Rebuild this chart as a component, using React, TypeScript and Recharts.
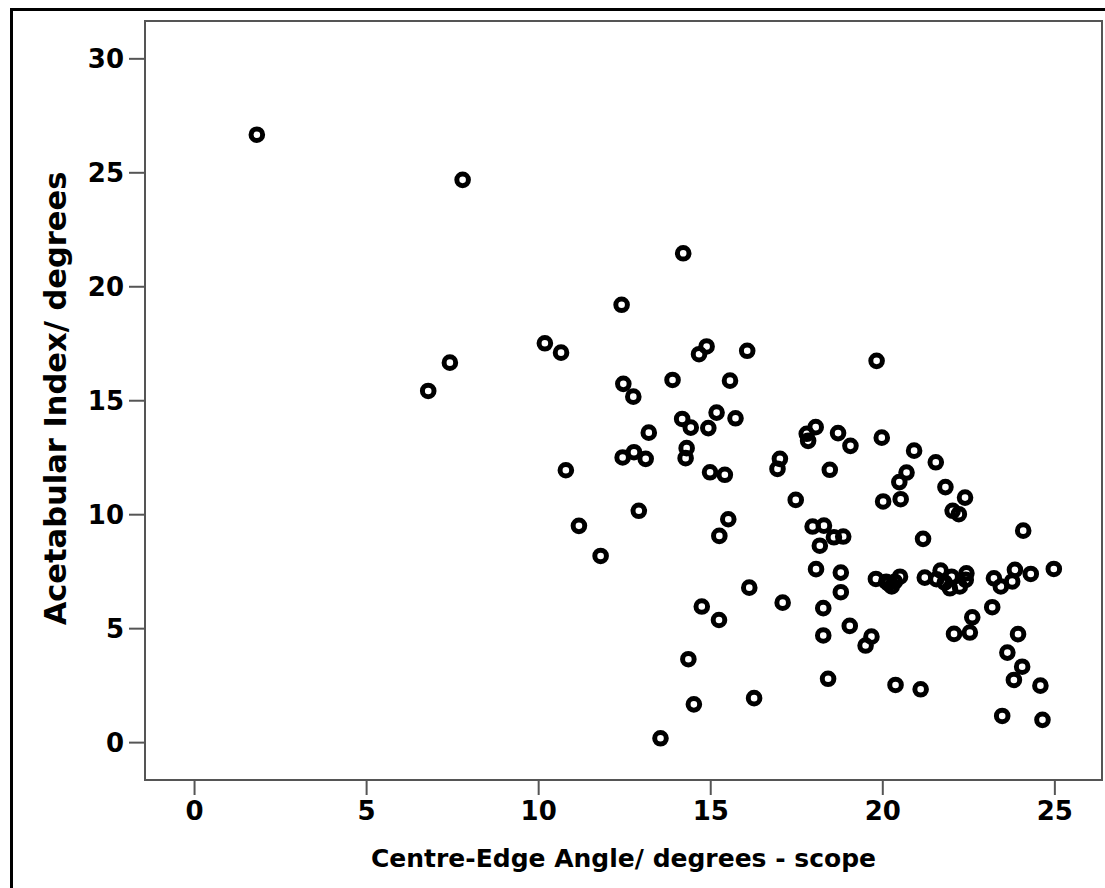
import { ScatterChart, Scatter, XAxis, YAxis, ReferenceArea } from "recharts";

// Centre-Edge angle (scope), degrees
const ceAngle = [
  1.81, 7.79, 10.18, 7.42, 6.79, 14.2, 12.41, 10.65, 14.88, 14.66,
  16.06, 12.46, 12.75, 13.89, 15.56, 14.17, 14.42, 15.17, 14.93, 15.72,
  13.2, 12.44, 12.77, 13.11, 14.3, 14.27, 10.79, 14.98, 15.41, 17.01,
  16.94, 12.91, 11.17, 11.8, 15.51, 15.25, 17.47, 16.12, 14.74, 15.24,
  17.09, 14.35, 14.51, 16.26, 13.54, 19.82, 18.05, 17.79, 17.83, 18.7,
  19.06, 19.97, 20.91, 21.54, 20.69, 20.48, 18.46, 21.82, 22.39, 22.03,
  22.21, 20.01, 20.52, 24.08, 17.96, 18.29, 18.58, 18.85, 18.17, 21.17,
  18.06, 18.78, 18.78, 18.27, 18.27, 19.04, 19.67, 19.5, 18.41, 20.37,
  21.1, 19.8, 20.1, 20.16, 20.26, 20.35, 20.5, 21.22, 21.56, 21.68,
  21.8, 21.95, 22.0, 22.24, 22.41, 22.43, 23.23, 23.43, 23.84, 23.76,
  24.3, 24.97, 23.18, 22.6, 22.07, 22.53, 23.93, 23.62, 24.05, 23.81,
  24.58, 23.47, 24.64,
];

// Acetabular index, degrees
const acetabularIndex = [
  26.67, 24.69, 17.52, 16.67, 15.43, 21.47, 19.21, 17.11, 17.38, 17.04,
  17.19, 15.74, 15.18, 15.91, 15.88, 14.2, 13.82, 14.48, 13.8, 14.23,
  13.6, 12.51, 12.74, 12.45, 12.92, 12.48, 11.95, 11.86, 11.75, 12.45,
  12.01, 10.17, 9.51, 8.19, 9.8, 9.07, 10.65, 6.8, 5.97, 5.38,
  6.14, 3.66, 1.68, 1.95, 0.19, 16.75, 13.84, 13.55, 13.24, 13.58,
  13.02, 13.38, 12.81, 12.3, 11.85, 11.43, 11.97, 11.21, 10.75, 10.17,
  10.02, 10.58, 10.68, 9.3, 9.48, 9.52, 9.01, 9.04, 8.64, 8.94,
  7.61, 7.46, 6.6, 5.9, 4.7, 5.12, 4.65, 4.26, 2.8, 2.53,
  2.34, 7.18, 7.06, 6.99, 6.85, 7.06, 7.28, 7.24, 7.17, 7.55,
  7.02, 6.77, 7.28, 6.85, 7.14, 7.43, 7.21, 6.85, 7.58, 7.07,
  7.4, 7.62, 5.94, 5.5, 4.77, 4.83, 4.76, 3.95, 3.33, 2.75,
  2.5, 1.17, 1.0,
];

const xTicks = [0, 5, 10, 15, 20, 25];
const yTicks = [0, 5, 10, 15, 20, 25, 30];

const points = ceAngle.map((x, i) => ({ x, y: acetabularIndex[i] }));

const xDomain = [-1.44, 26.37];
const yDomain = [-1.64, 31.66];

const FONT = "'DejaVu Sans', sans-serif";

const Ring = (props: any) => (
  <circle cx={props.cx} cy={props.cy} r={5.8} fill="none" stroke="#000" strokeWidth={5} />
);

const XTitle = (props: any) => {
  const vb = props.viewBox;
  return (
    <text
      x={vb.x + vb.width / 2}
      y={867}
      textAnchor="middle"
      fontFamily={FONT}
      fontWeight="bold"
      fontSize={25}
      fill="#000"
    >
      Centre-Edge Angle/ degrees - scope
    </text>
  );
};

const YTitle = (props: any) => {
  const vb = props.viewBox;
  const cx = 66;
  const cy = vb.y + vb.height / 2 - 2;
  return (
    <text
      x={cx}
      y={cy}
      transform={`rotate(-90 ${cx} ${cy})`}
      textAnchor="middle"
      fontFamily={FONT}
      fontWeight="bold"
      fontSize={30.5}
      fill="#000"
    >
      Acetabular Index/ degrees
    </text>
  );
};

const tickStyle = { fill: "#000", fontSize: 26, fontWeight: "bold", fontFamily: FONT };

export default function App() {
  return (
    <div style={{ position: "absolute", left: 0, top: 0, width: 1105, height: 888, background: "#fff" }}>
      <div
        style={{
          position: "absolute",
          left: 10,
          top: 8,
          width: 1095,
          height: 880,
          borderTop: "3px solid #000",
          borderLeft: "3px solid #000",
          boxSizing: "border-box",
        }}
      />
      <div style={{ position: "absolute", left: 0, top: 0 }}>
        <ScatterChart width={1105} height={888} margin={{ top: 21, right: 3, bottom: 0, left: 0 }}>
          <XAxis
            type="number"
            dataKey="x"
            domain={xDomain}
            ticks={xTicks}
            allowDataOverflow
            height={108}
            tickSize={15}
            tickMargin={7}
            tick={tickStyle}
            axisLine={{ stroke: "#555", strokeWidth: 2 }}
            tickLine={{ stroke: "#555", strokeWidth: 2 }}
            label={{ content: XTitle }}
          />
          <YAxis
            type="number"
            dataKey="y"
            domain={yDomain}
            ticks={yTicks}
            allowDataOverflow
            width={145}
            tickSize={16}
            tickMargin={5}
            tick={tickStyle}
            axisLine={{ stroke: "#555", strokeWidth: 2 }}
            tickLine={{ stroke: "#555", strokeWidth: 2 }}
            label={{ content: YTitle }}
          />
          <ReferenceArea
            x1={xDomain[0]}
            x2={xDomain[1]}
            y1={yDomain[0]}
            y2={yDomain[1]}
            fill="none"
            stroke="#555"
            strokeWidth={2}
            ifOverflow="visible"
          />
          <Scatter data={points} shape={Ring} isAnimationActive={false} />
        </ScatterChart>
      </div>
    </div>
  );
}
